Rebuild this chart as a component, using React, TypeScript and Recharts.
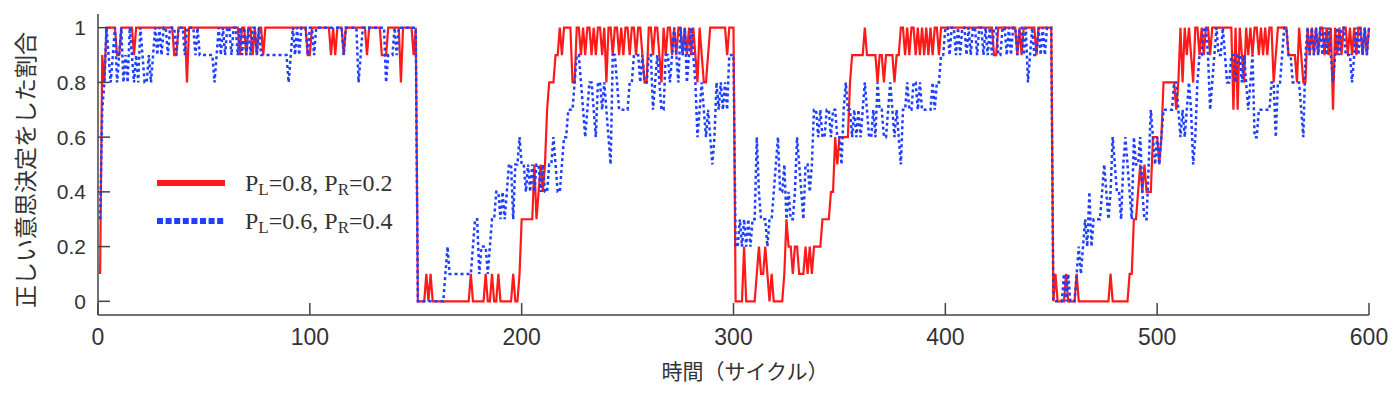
import { Label, Legend, Line, LineChart, XAxis, YAxis } from "recharts"

// share of correct decisions per cycle, in tenths: one char per cycle (0-9, X = 10), groups of 10
const redPhase1 =
  "198XXXXX99 XXXXXX9XXX XXXXXXXXXX XXXXX99XXX X8XXXXXXXX XXXXXXXXXX XXXXXX9XX9 XX9X9XX9XX XXXXXXXXXX XXXXXXXX99 XXXXXXXXX9 X9XXX9XXXX XXXXXX9XXX XXX999XXXX XX8XXXXX9X"
const redPhase2 =
  "0000101000 0000000000 0000010000 0010010010 0000010013 3333353454 5788899X9X XXX88XX9X9 XX9X9XX9X8 XX9XX9X9XX 9XX9XX988X X9XX98X9XX 9X9XX9X9X9 X98X9889XX XXXXXX9XXX"
const redPhase3 =
  "0000200000 1211210100 0001322122 1112121222 2333344656 6666899999 9X99999899 89999899XX 9X9XX9X9X9 X9X9XX9XXX XXXXXXXXXX XXXXXXXXXX XX99XXXXXX XXX9X9XXXX XX9XXXXXXX"
const redPhase4 =
  "0100001000 0100000000 0000000100 0000001133 4545444666 5688888878 X8X9X98XX9 X9XX9XXXXX XXXXX7X7X9 8X9X9XX9X9 X9XX89XXXX X99998X988 X9X9X9XX9X 9X7X9X9XX9 X9X9XX9X9X"

const bluePhase1 =
  "378X989X89 X898X9898X 988989X9X9 XX9XXX9XXX 9XXXX9X999 999989X9X9 XX9XX9X9X9 X9XX9X9999 9999999998 9X9X9XXX9X X9XXXXXXXX XXXXX9XXXX XX89XXXXXX XXXXX8999X 9XXXXXXXXX"
const bluePhase2 =
  "0000000000 0001211111 1111112331 2221233443 4345535565 5454545545 4455654456 6777899876 7887688787 6599877777 8899989889 9789877998 9X98X9X89X 9867876765 6878787999"
const bluePhase3 =
  "2232323233 6433323345 6445343346 5435545776 7667767766 5787767676 7876676877 6678767657 7877887877 777878899X X9XX9X9XX9 X9XX9XX9X9 X9XX99XX9X 9XX9XX9X89 X99X9X9XXX"
const bluePhase4 =
  "0000010100 0121232423 3334543465 4435654365 5643357656 5677777887 6767875689 9XX9789X99 X988998998 9878966777 777886889X X998888769 X9X9X9X9X9 X989X9XX99 989X9X9X9X"

const xTicks = [0, 100, 200, 300, 400, 500, 600]
const yTicks = [0, 0.2, 0.4, 0.6, 0.8, 1]

const RED = "#ff1a1a"
const BLUE = "#1f3fff"
const AXIS = "#444"
const TEXT = "#333"
const SANS = '"Liberation Sans", Arial, sans-serif'
const SERIF = '"Liberation Serif", "Times New Roman", serif'
const CJK = '"Noto Sans CJK JP", "Noto Sans", sans-serif'

const parse = (s: string) =>
  s.replace(/\s+/g, "").split("").map((ch) => (ch === "X" ? 1 : Number(ch) / 10))

const red = [redPhase1, redPhase2, redPhase3, redPhase4].flatMap(parse)
const blue = [bluePhase1, bluePhase2, bluePhase3, bluePhase4].flatMap(parse)
const data = red.map((v, i) => ({ cycle: i + 1, red: v, blue: blue[i] }))

const legendRows = [
  { color: RED, dash: undefined, pl: "0.8", pr: "0.2" },
  { color: BLUE, dash: "6 2.6", pl: "0.6", pr: "0.4" },
]

function ChartLegend() {
  return (
    <svg width={270} height={90} style={{ display: "block", overflow: "visible" }}>
      {legendRows.map((r, i) => {
        const y = 20 + i * 38
        return (
          <g key={i}>
            <line x1={0} x2={68} y1={y} y2={y} stroke={r.color} strokeWidth={6} strokeDasharray={r.dash} />
            <text x={88} y={y + 8} fontFamily={SERIF} fontSize={24} fill={TEXT}>
              P<tspan fontSize={17} dy={4}>L</tspan>
              <tspan dy={-4}>{"=" + r.pl + ", P"}</tspan>
              <tspan fontSize={17} dy={4}>R</tspan>
              <tspan dy={-4}>{"=" + r.pr}</tspan>
            </text>
          </g>
        )
      })}
    </svg>
  )
}

export default function App() {
  const axisLine = { stroke: AXIS, strokeWidth: 1.5 }
  return (
    <div style={{ position: "absolute", left: 0, top: 0, width: 1400, height: 397, background: "#fff" }}>
      <LineChart width={1400} height={397} data={data} margin={{ top: 14, right: 31, bottom: 0, left: 0 }}>
        <XAxis
          xAxisId="bottom"
          dataKey="cycle"
          type="number"
          domain={[0, 600]}
          ticks={xTicks}
          height={82}
          axisLine={axisLine}
          tickLine={axisLine}
          tickSize={-12}
          tickMargin={26}
          tick={{ fontSize: 23, fill: TEXT, fontFamily: SANS }}
        >
          <Label
            content={() => (
              <text x={745} y={379} textAnchor="middle" fontFamily={CJK} fontSize={21} fill={TEXT}>
                時間（サイクル）
              </text>
            )}
          />
        </XAxis>
        <XAxis
          xAxisId="top"
          orientation="top"
          dataKey="cycle"
          type="number"
          domain={[0, 600]}
          ticks={xTicks}
          height={0}
          axisLine={axisLine}
          tickLine={axisLine}
          tickSize={-12}
          tick={false}
        />
        <YAxis
          yAxisId="left"
          type="number"
          domain={[-0.05, 1.05]}
          ticks={yTicks}
          width={98}
          axisLine={axisLine}
          tickLine={axisLine}
          tickSize={-12}
          tickMargin={24}
          tickFormatter={(v) => String(v)}
          tick={{ fontSize: 21, fill: TEXT, fontFamily: SANS }}
        >
          <Label
            content={() => (
              <text
                x={24}
                y={170}
                transform="rotate(-90 24 170)"
                textAnchor="middle"
                dominantBaseline="central"
                fontFamily={CJK}
                fontSize={23}
                fill={TEXT}
              >
                正しい意思決定をした割合
              </text>
            )}
          />
        </YAxis>
        <YAxis
          yAxisId="right"
          orientation="right"
          type="number"
          domain={[-0.05, 1.05]}
          ticks={yTicks}
          width={0}
          axisLine={axisLine}
          tickLine={axisLine}
          tickSize={-12}
          tick={false}
        />
        <Legend
          layout="horizontal"
          verticalAlign="middle"
          align="center"
          content={() => <ChartLegend />}
          wrapperStyle={{ position: "absolute", left: 157, top: 163, width: 270, height: 90 }}
        />
        <Line
          xAxisId="bottom"
          yAxisId="left"
          type="linear"
          dataKey="red"
          name="PL=0.8, PR=0.2"
          stroke={RED}
          strokeWidth={2.2}
          dot={false}
          activeDot={false}
          isAnimationActive={false}
        />
        <Line
          xAxisId="bottom"
          yAxisId="left"
          type="linear"
          dataKey="blue"
          name="PL=0.6, PR=0.4"
          stroke={BLUE}
          strokeWidth={2.5}
          strokeDasharray="3 3"
          dot={false}
          activeDot={false}
          isAnimationActive={false}
        />
      </LineChart>
    </div>
  )
}
